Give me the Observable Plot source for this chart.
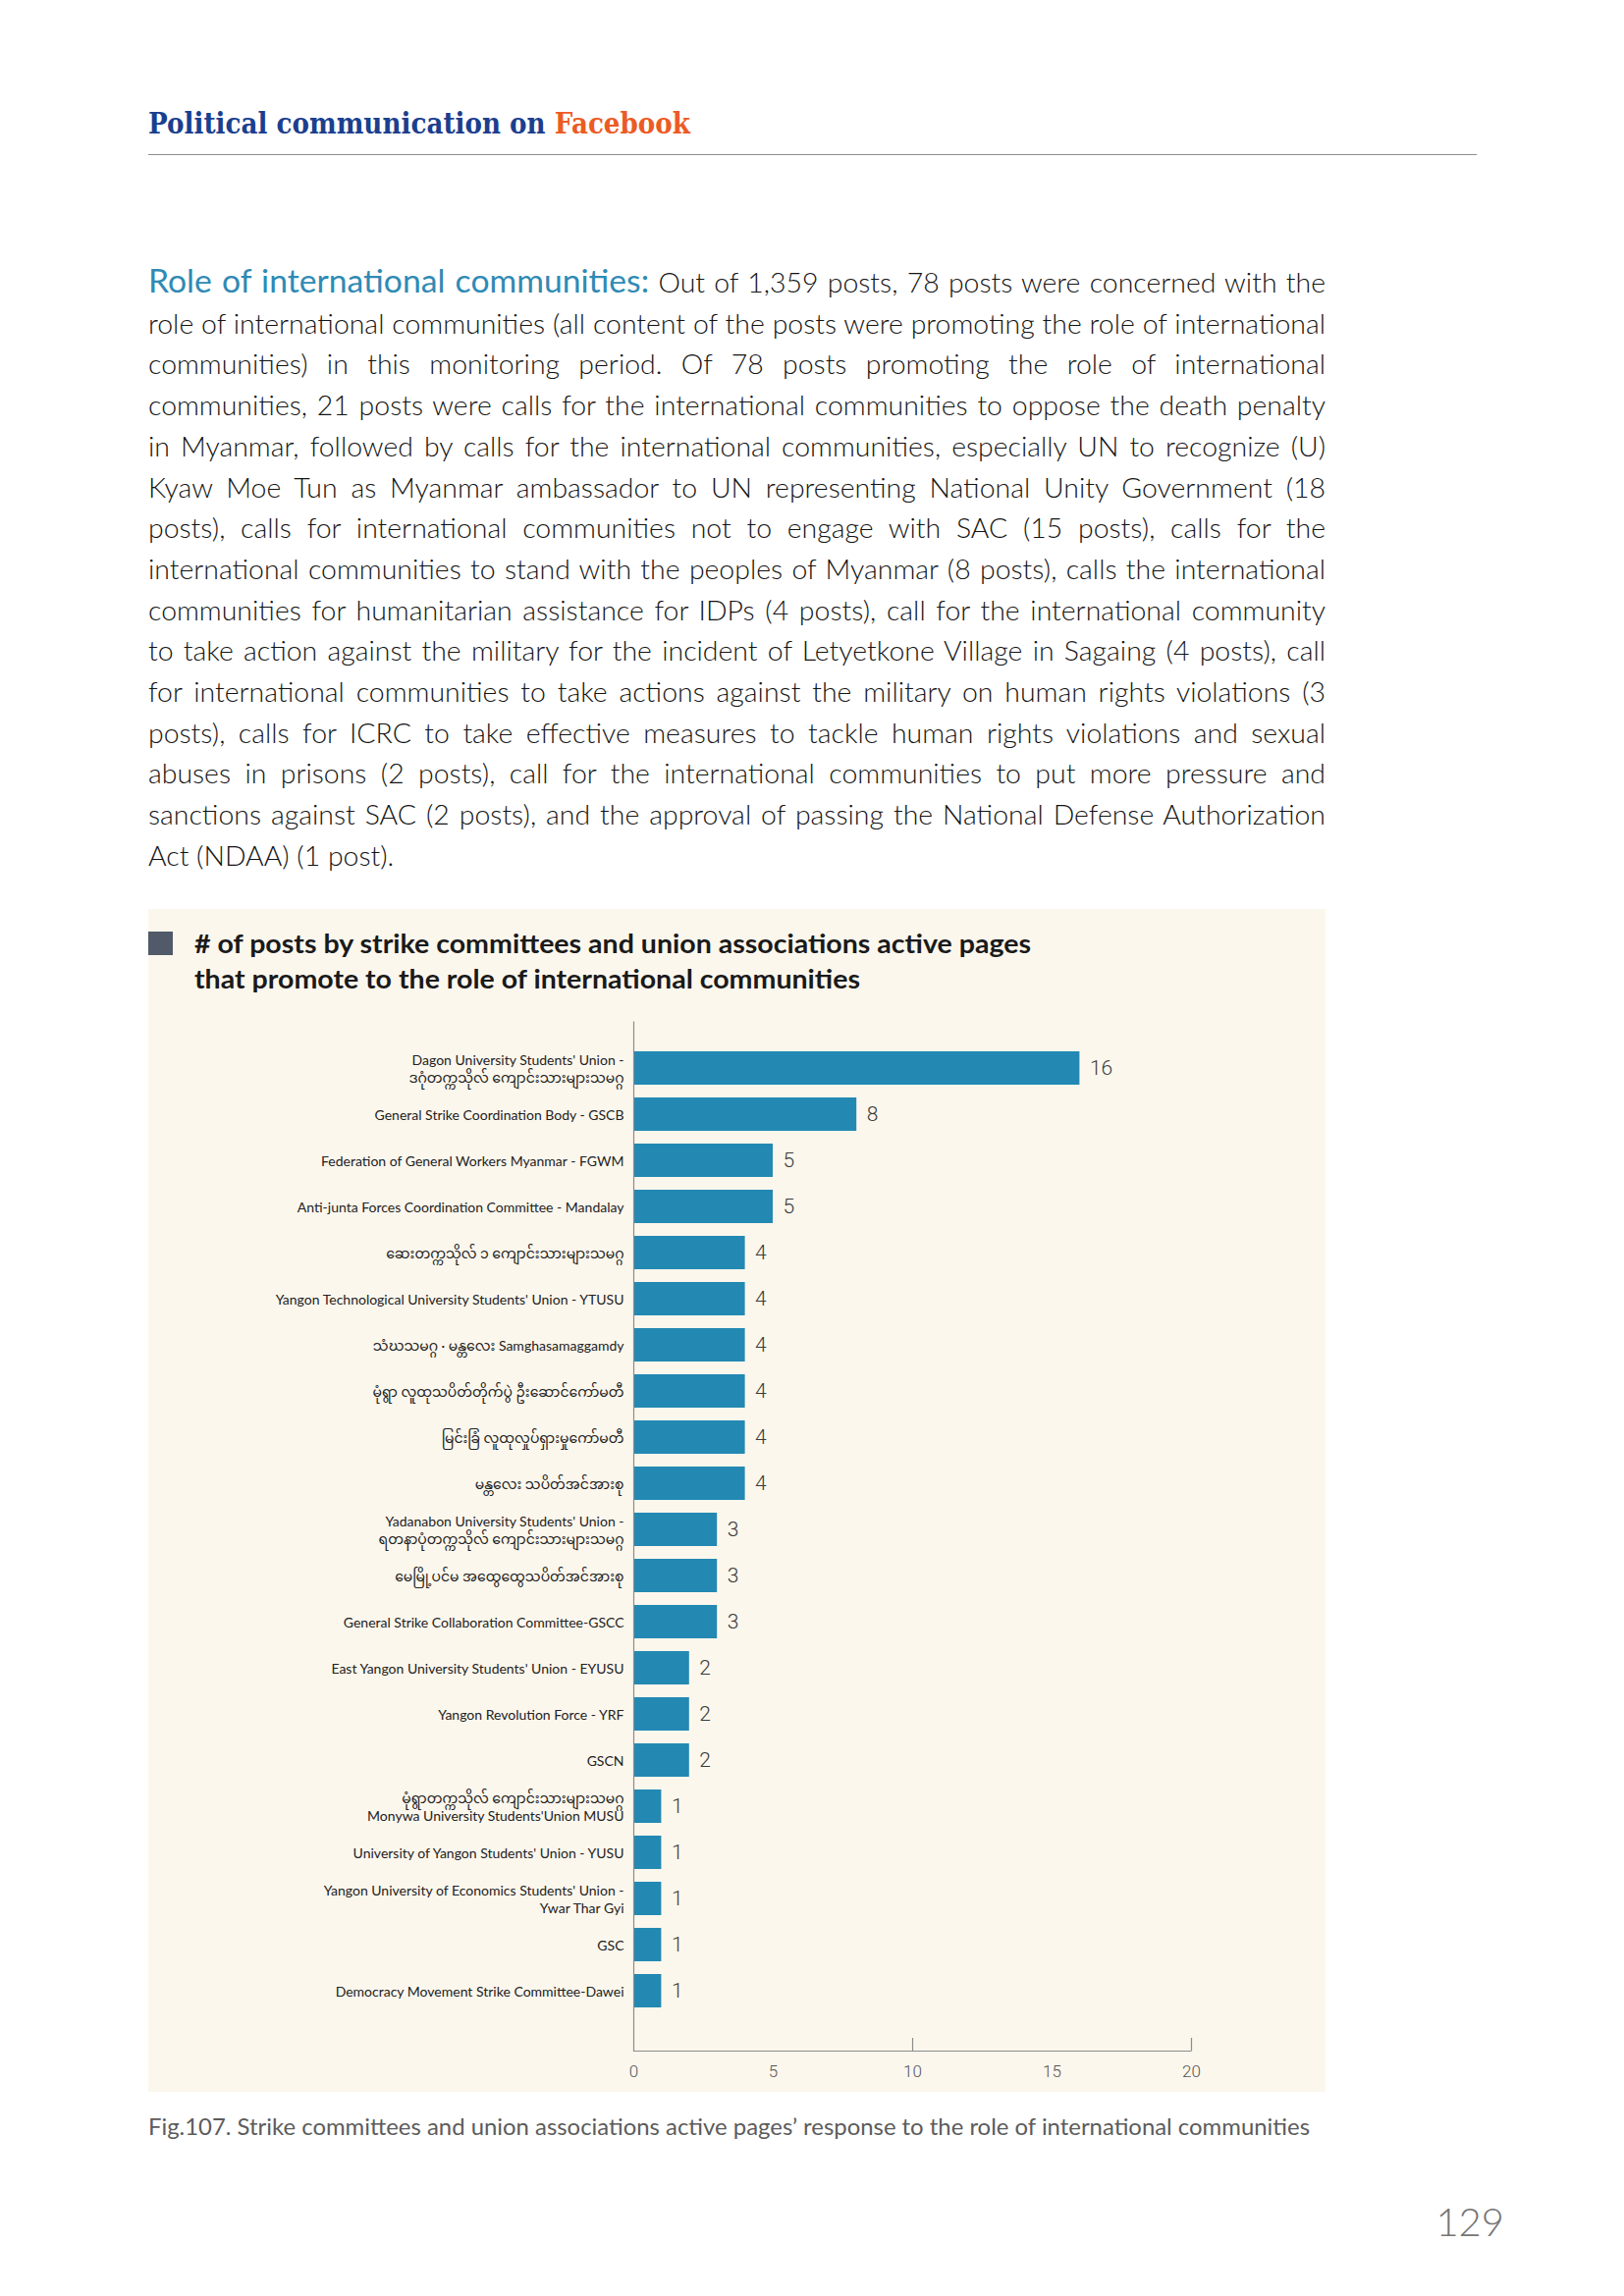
<!DOCTYPE html>
<html><head><meta charset="utf-8">
<script src="https://cdn.jsdelivr.net/npm/d3@7"></script>
<script src="https://cdn.jsdelivr.net/npm/@observablehq/plot@0.6"></script>
<style>
html,body{margin:0;padding:0;background:#fff;}
body{width:1654px;height:2339px;position:relative;overflow:hidden;}
.abs{position:absolute;white-space:nowrap;}
#header{left:151px;top:110px;font-family:"DejaVu Serif","Liberation Serif",serif;font-weight:bold;font-size:29px;line-height:1;color:#1b3f8e;}
#header .fb{color:#ec5b24;}
#rule{position:absolute;left:151px;top:157px;width:1353px;height:0;border-top:1.6px solid #8d8d8d;}
#para{position:absolute;left:151px;top:266px;font-family:Lato,"Open Sans",sans-serif;font-weight:300;font-size:27px;line-height:41.7px;color:#141414;transform-origin:0 0;}
#para .pl{white-space:normal;text-align:justify;text-align-last:justify;}
#para .pl.last{text-align:left;text-align-last:left;}
#para.measure .pl{text-align:left;text-align-last:left;white-space:nowrap;}
#para .lead{font-weight:400;font-size:32px;line-height:1;color:#2f8ab4;}
#panel{position:absolute;left:151px;top:926px;width:1199px;height:1205px;background:#fcf7ed;}
#sq{position:absolute;left:151px;top:949px;width:25px;height:24px;background:#505a68;}
.ct{left:198px;top:950px;font-family:Lato,"Open Sans",sans-serif;font-weight:bold;font-size:26px;line-height:1;color:#1a1a1a;}
#chart{position:absolute;left:151px;top:1030px;}
#caption{left:151px;top:2155px;font-family:Lato,"Open Sans",sans-serif;font-weight:400;font-size:23px;line-height:1;color:#5c5c5c;}
#pnum{left:1474px;top:2245px;font-family:Lato,"Open Sans",sans-serif;font-weight:300;font-size:40px;line-height:1;color:#757575;}
</style></head><body>
<div id="header" class="abs">Political communication on <span class="fb">Facebook</span></div>
<div id="rule"></div>
<div id="para" class="measure"></div>
<div id="panel"></div>
<div id="sq"></div>
<div id="ct1" class="abs ct"># of posts by strike committees and union associations active pages</div>
<div id="ct2" class="abs ct">that promote to the role of international communities</div>
<div id="chart"></div>
<div id="caption" class="abs">Fig.107. Strike committees and union associations active pages’ response to the role of international communities</div>
<div id="pnum" class="abs">129</div>
<script>
// ---- chart data ----
const categories = [
  "Dagon University Students' Union -\nဒဂုံတက္ကသိုလ် ကျောင်းသားများသမဂ္ဂ",
  "General Strike Coordination Body - GSCB",
  "Federation of General Workers Myanmar - FGWM",
  "Anti-junta Forces Coordination Committee - Mandalay",
  "ဆေးတက္ကသိုလ် ၁ ကျောင်းသားများသမဂ္ဂ",
  "Yangon Technological University Students' Union - YTUSU",
  "သံဃသမဂ္ဂ · မန္တလေး Samghasamaggamdy",
  "မုံရွာ လူထုသပိတ်တိုက်ပွဲ ဦးဆောင်ကော်မတီ",
  "မြင်းခြံ လူထုလှုပ်ရှားမှုကော်မတီ",
  "မန္တလေး သပိတ်အင်အားစု",
  "Yadanabon University Students' Union -\nရတနာပုံတက္ကသိုလ် ကျောင်းသားများသမဂ္ဂ",
  "မေမြို့ပင်မ အထွေထွေသပိတ်အင်အားစု",
  "General Strike Collaboration Committee-GSCC",
  "East Yangon University Students' Union - EYUSU",
  "Yangon Revolution Force - YRF",
  "GSCN",
  "မုံရွာတက္ကသိုလ် ကျောင်းသားများသမဂ္ဂ\nMonywa University Students'Union MUSU",
  "University of Yangon Students' Union - YUSU",
  "Yangon University of Economics Students' Union -\nYwar Thar Gyi",
  "GSC",
  "Democracy Movement Strike Committee-Dawei"
];
const posts = [16, 8, 5, 5, 4, 4, 4, 4, 4, 4, 3, 3, 3, 2, 2, 2, 1, 1, 1, 1, 1];
const xTickLabels = [0, 5, 10, 15, 20];
const xTickMarks = [10, 20];
const xDomain = [0, 20];

const data = categories.map((c, i) => ({label: c, value: posts[i]}));

// ---- layout ----
const W = 1199, H = 1100, mL = 494, mR = 137, mT = 10, mB = 41;
const fw = W - mL - mR, fh = H - mT - mB;
const axisColor = "#8c8c8c";
const labelFont = "Lato, 'Noto Sans Myanmar', 'Padauk', 'Myanmar Text', 'Noto Sans', sans-serif";
const numFont = "Roboto, 'Liberation Sans', sans-serif";

const chart = Plot.plot({
  width: W, height: H,
  marginLeft: mL, marginRight: mR, marginTop: mT, marginBottom: mB,
  style: {background: "transparent", overflow: "visible"},
  x: {domain: xDomain},
  y: {type: "band", domain: categories, range: [33.5, 1022.5], paddingInner: 0.28, paddingOuter: 0.14, align: 0.5},
  marks: [
    Plot.barX(data, {x: "value", y: "label", fill: "#2389b3"}),
    Plot.text(data, {x: "value", y: "label", text: d => String(d.value), textAnchor: "start", dx: 10, fontSize: 21, fontWeight: 300, fill: "#3a3a3a", fontFamily: numFont}),
    Plot.frame({stroke: axisColor, strokeWidth: 1.2, strokeDasharray: `0 ${fw + fh} ${fw + fh}`}),
    Plot.tickX(xTickMarks, {x: d => d, stroke: axisColor, strokeWidth: 1.2, insetTop: fh - 13}),
    Plot.axisX({ticks: xTickLabels, tickSize: 0, tickPadding: 14, fontSize: 17, fontWeight: 300, fill: "#555", fontFamily: numFont, label: null}),
    Plot.axisY({tickSize: 0, tickPadding: 10, fontSize: 14, lineHeight: 1.22, fill: "#222", fontFamily: labelFont, label: null})
  ]
});
document.getElementById("chart").appendChild(chart);

// ---- paragraph ----
const paraLines = [
  '<span class="lead">Role of international communities:</span> Out of 1,359 posts, 78 posts were concerned with the',
  'role of international communities (all content of the posts were promoting the role of international',
  'communities) in this monitoring period. Of 78 posts promoting the role of international',
  'communities, 21 posts were calls for the international communities to oppose the death penalty',
  'in Myanmar, followed by calls for the international communities, especially UN to recognize (U)',
  'Kyaw Moe Tun as Myanmar ambassador to UN representing National Unity Government (18',
  'posts), calls for international communities not to engage with SAC (15 posts), calls for the',
  'international communities to stand with the peoples of Myanmar (8 posts), calls the international',
  'communities for humanitarian assistance for IDPs (4 posts), call for the international community',
  'to take action against the military for the incident of Letyetkone Village in Sagaing (4 posts), call',
  'for international communities to take actions against the military on human rights violations (3',
  'posts), calls for ICRC to take effective measures to tackle human rights violations and sexual',
  'abuses in prisons (2 posts), call for the international communities to put more pressure and',
  'sanctions against SAC (2 posts), and the approval of passing the National Defense Authorization',
  'Act (NDAA) (1 post).'
];

function baselineOf(el) {
  const m = document.createElement("span");
  m.style.cssText = "display:inline-block;width:0;height:0;vertical-align:baseline;";
  el.appendChild(m);
  const b = m.getBoundingClientRect().bottom;
  el.removeChild(m);
  return b;
}
function placeBaseline(el, y, ref) {
  const b = baselineOf(ref || el);
  el.style.top = (parseFloat(getComputedStyle(el).top) + (y - b)) + "px";
}
function fitWidth(el, target) {
  el.style.transform = "none";
  const w = el.getBoundingClientRect().width;
  el.style.transformOrigin = "0 0";
  el.style.transform = `scaleX(${target / w})`;
  return target / w;
}

const para = document.getElementById("para");
const spans = [];
paraLines.forEach((h, i) => {
  const d = document.createElement("div");
  d.className = "pl" + (i === paraLines.length - 1 ? " last" : "");
  const s = document.createElement("span");
  s.innerHTML = h;
  d.appendChild(s);
  para.appendChild(d);
  spans.push(s);
});
para.style.width = "3000px";
let maxW = 0;
spans.forEach(s => { maxW = Math.max(maxW, s.getBoundingClientRect().width); });
para.classList.remove("measure");
para.style.width = Math.ceil(maxW + 2) + "px";
para.style.transform = `scaleX(${1199 / Math.ceil(maxW + 2)})`;
placeBaseline(para, 298, para.firstChild);

// ---- header & other text ----
const header = document.getElementById("header");
fitWidth(header, 552);
placeBaseline(header, 136);

const ct1 = document.getElementById("ct1"), ct2 = document.getElementById("ct2");
const k = fitWidth(ct1, 852);
ct2.style.transformOrigin = "0 0";
ct2.style.transform = `scaleX(${k})`;
placeBaseline(ct1, 971);
placeBaseline(ct2, 1007);

const cap = document.getElementById("caption");
fitWidth(cap, 1183);
placeBaseline(cap, 2175);

const pn = document.getElementById("pnum");
const pw = pn.getBoundingClientRect().width;
pn.style.left = (1532 - pw) + "px";
placeBaseline(pn, 2278);
</script>
</body></html>
